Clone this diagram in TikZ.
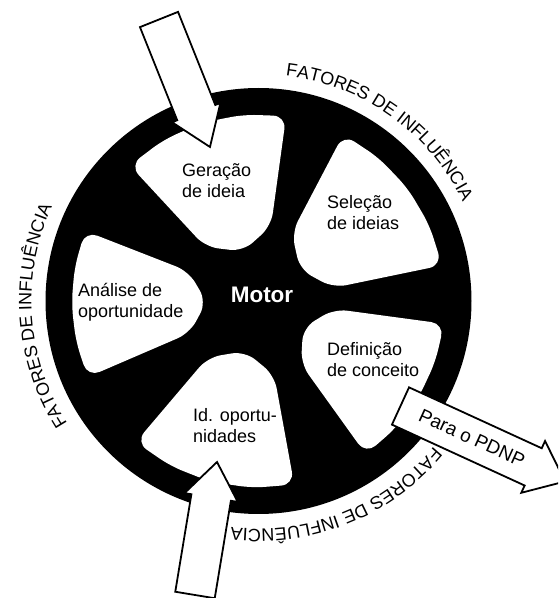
\documentclass[tikz,border=0pt]{standalone}
\usepackage{fontspec}
\setmainfont{Liberation Sans}
\usetikzlibrary{decorations.text}

\newcommand\lobefont{\fontsize{18}{21}\selectfont}
\newcommand\ringfont{\fontsize{18}{20}\selectfont}
\newcommand\labelfont{\fontsize{19}{22}\selectfont}
\newcommand\hubfont{\fontsize{22.5}{26}\selectfont\bfseries}

% one white pocket of the wheel: #1 = direction, #2 = half opening angle
\newcommand\pocket[2]{%
  \fill[pocketfill] (#1+#2+1:76) -- (#1+#2:187) -- (#1+#2/2:187) -- (#1:187)
    -- (#1-#2/2:187) -- (#1-#2:187) -- (#1-#2-1:76) -- (#1:52) -- cycle;}

% block arrow from its tail coordinate #1, direction #2, length #3,
% half shaft #4, half head #5, head length #6
\newcommand\blockarrow[6]{%
  \begin{scope}[shift={(#1)}, rotate=#2]
    \draw[arrowline] (0,-#4) -- (#3-#6,-#4) -- (#3-#6,-#5) -- (#3,0)
      -- (#3-#6,#5) -- (#3-#6,#4) -- (0,#4) -- cycle;
  \end{scope}}

\begin{document}
\begin{tikzpicture}[x=1pt,y=1pt,
  pocketfill/.style={fill=white, rounded corners=13pt},
  pockettext/.style={font=\lobefont, align=left, anchor=west, inner sep=0pt},
  arrowline/.style={draw=black, fill=white, line width=1.8pt, line join=miter},
  ringtext/.style={decorate, decoration={text along path, text align=center,
    text={|\ringfont|FATORES DE INFLUÊNCIA}}}]
\useasboundingbox (0,0) rectangle (558,598);
\clip (0,0) rectangle (558,598);

\coordinate (hub) at (258.5,297);

% the wheel
\node[circle, fill=black, minimum size=426pt, inner sep=0pt] (wheel) at (hub) {};
\begin{scope}[shift={(hub)}]
  \pocket{107.5}{26}
  \pocket{37}{26}
  \pocket{-31}{24}
  \pocket{-105}{26}
  \pocket{181}{23}
\end{scope}

% stage names
\node[pockettext] (geracao)   at (182,417)   {Geração\\de ideia};
\node[pockettext] (selecao)   at (327,385.5) {Seleção\\de ideias};
\node[pockettext] (definicao) at (327,238)   {Definição\\de conceito};
\node[pockettext] (idopo)     at (193,172)   {Id. oportu-\\nidades};
\node[pockettext] (analise)   at (78,295.5)  {Análise de\\oportunidade};
\node[font=\hubfont, text=white, inner sep=0pt] (motor) at (262,303) {Motor};

% influence factors around the wheel
\path[ringtext] (hub) ++(114.5:227) arc[start angle=114.5, end angle=-5.5, radius=227];
\path[ringtext] (hub) ++(244:227) arc[start angle=244, end angle=124, radius=227];
\path[ringtext] (hub) ++(-8.3:228) arc[start angle=-8.3, end angle=-128.3, radius=228];

% inputs and output
\coordinate (toptail) at (159,578.5);
\coordinate (bottail) at (195,3);
\coordinate (outtail) at (400.5,192);
\blockarrow{toptail}{-68.2}{137.3}{20.5}{26}{37}
\blockarrow{bottail}{80.6}{134.8}{20}{27}{36}
\blockarrow{outtail}{-24.65}{181}{20.5}{28.5}{35}
\node[font=\labelfont, rotate=-24.65, inner sep=0pt] (pdnp) at (472,160) {Para o PDNP};
\end{tikzpicture}
\end{document}
